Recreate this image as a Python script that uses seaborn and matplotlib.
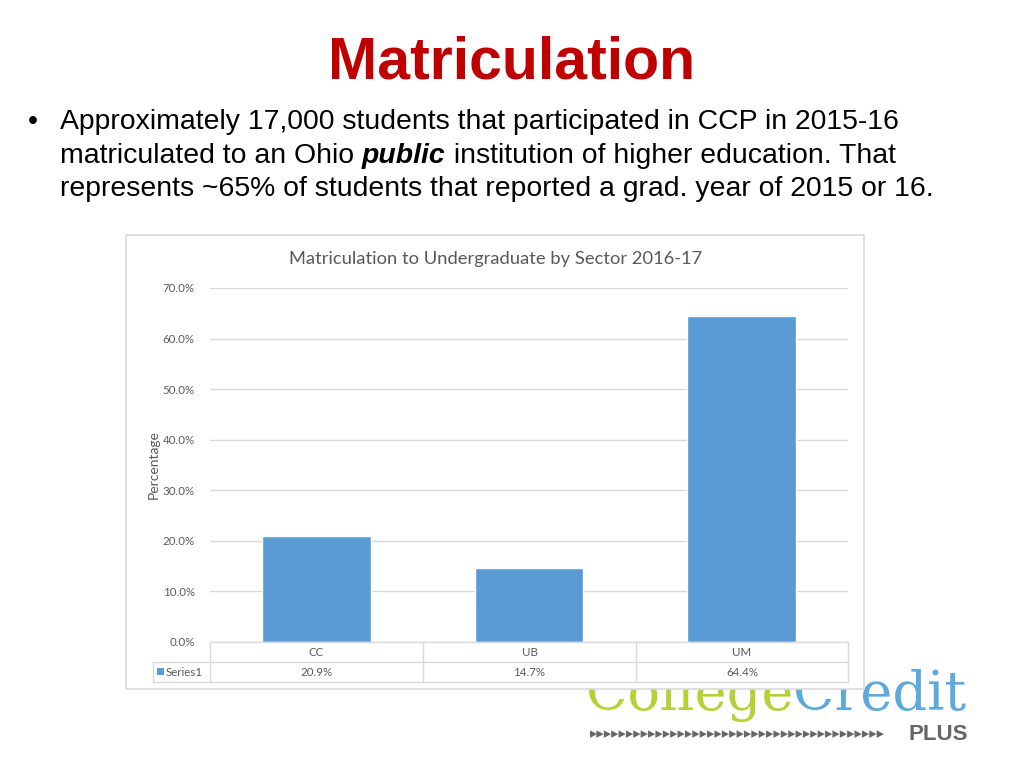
import matplotlib
matplotlib.use("Agg")
import matplotlib.pyplot as plt
import seaborn as sns
import pandas as pd
from matplotlib.patches import Rectangle

# ---- data ----
categories = ["CC", "UB", "UM"]
values = [0.209, 0.147, 0.644]
value_labels = ["20.9%", "14.7%", "64.4%"]
series_name = "Series1"
y_ticks = [0.0, 0.1, 0.2, 0.3, 0.4, 0.5, 0.6, 0.7]
slide_title = "Matriculation"
chart_title = "Matriculation to Undergraduate by Sector 2016-17"
y_label = "Percentage"

W, H = 1024, 768
sns.set_theme(style="white")
plt.rcParams['font.family'] = ['Liberation Sans', 'DejaVu Sans']

fig = plt.figure(figsize=(W / 100, H / 100), dpi=100)
fig.patch.set_facecolor("white")

def fx(px):
    return px / W

def fy(py):
    return 1 - py / H

# ---- slide title ----
fig.text(fx(512), fy(63), slide_title, ha="center", va="center",
         fontsize=42.5, fontweight="bold", color="#C00000")

# ---- bullet text ----
bfs = 20.4
fig.text(fx(28), fy(122), "\u2022", ha="left", va="center", fontsize=bfs, color="black")
fig.text(fx(60), fy(122), "Approximately 17,000 students that participated in CCP in 2015-16",
         ha="left", va="center", fontsize=bfs, color="black")
renderer = fig.canvas.get_renderer()
t1 = fig.text(fx(60), fy(156), "matriculated to an Ohio ", ha="left", va="center",
              fontsize=bfs, color="black")
bb = t1.get_window_extent(renderer)
t2 = fig.text(bb.x1 / W, fy(156), "public", ha="left", va="center",
              fontsize=bfs, color="black", fontweight="bold", fontstyle="italic")
bb2 = t2.get_window_extent(renderer)
fig.text(bb2.x1 / W, fy(156), " institution of higher education. That",
         ha="left", va="center", fontsize=bfs, color="black")
fig.text(fx(60), fy(189), "represents ~65% of students that reported a grad. year of 2015 or 16.",
         ha="left", va="center", fontsize=bfs, color="black")

# ---- logo (behind chart frame) ----
logo_font = ["DejaVu Serif"]
lt1 = fig.text(fx(586), fy(710), "College", ha="left", va="baseline", fontsize=39,
               color="#B3D235", family=logo_font, zorder=-3)
lbb = lt1.get_window_extent(renderer)
fig.text(lbb.x1 / W, fy(710), "Credit", ha="left", va="baseline", fontsize=39,
         color="#5DA8DC", family=logo_font, zorder=-3)
fig.text(fx(590), fy(734), "\u25B8" * 40, ha="left", va="center", fontsize=10.5,
         color="#666666", family=["DejaVu Sans"], zorder=-3)
fig.text(fx(968), fy(735), "PLUS", ha="right", va="center", fontsize=16,
         fontweight="bold", color="#666666", zorder=-3)

# ---- chart frame ----
frame = Rectangle((fx(126), fy(689)), (864 - 126) / W, (689 - 235) / H,
                  transform=fig.transFigure, facecolor="white",
                  edgecolor="#D9D9D9", linewidth=1.2, zorder=-1)
fig.patches.append(frame)

cfont = ["Lato", "DejaVu Sans"]
gray = "#595959"
fig.text(fx(496), fy(259), chart_title, ha="center", va="center", fontsize=13.2,
         color=gray, family=cfont)

# ---- axes ----
ax = fig.add_axes([fx(210), fy(642), (848 - 210) / W, (642 - 288) / H])
ax.set_facecolor("none")
df = pd.DataFrame({"cat": categories, "val": values})
sns.barplot(data=df, x="cat", y="val", color="#5B9BD5", width=0.51,
            saturation=1, ax=ax, zorder=3)
ax.set_ylim(0, 0.7)
ax.set_xlim(-0.5, 2.5)
ax.set_yticks(y_ticks)
ax.set_yticklabels([f"{t*100:.1f}%" for t in y_ticks], fontsize=8.3, color=gray,
                   family=cfont)
ax.tick_params(axis="y", length=0, pad=11)
ax.set_xticks([])
ax.set_xlabel("")
ax.set_ylabel("")
ax.grid(axis="y", color="#D9D9D9", linewidth=1, zorder=0)
for s in ax.spines.values():
    s.set_visible(False)

fig.text(fx(154), fy(465), y_label, rotation=90, ha="center", va="center",
         fontsize=10, color=gray, family=cfont)

# ---- data table ----
tax = fig.add_axes([fx(150), fy(684), (850 - 150) / W, (684 - 640) / H])
tax.set_xlim(150, 850)
tax.set_ylim(684, 640)
tax.axis("off")
lc = "#D9D9D9"
cols = [210, 423, 636, 848]
for x in cols:
    tax.plot([x, x], [642, 682], color=lc, lw=1)
tax.plot([153, 153], [662, 682], color=lc, lw=1)
tax.plot([210, 848], [642, 642], color=lc, lw=1)
tax.plot([153, 848], [662, 662], color=lc, lw=1)
tax.plot([153, 848], [682, 682], color=lc, lw=1)
for i, (c, v) in enumerate(zip(categories, value_labels)):
    cx = (cols[i] + cols[i + 1]) / 2
    tax.text(cx, 652, c, ha="center", va="center", fontsize=8.3, color=gray, family=cfont)
    tax.text(cx, 672, v, ha="center", va="center", fontsize=8.3, color=gray, family=cfont)
tax.add_patch(Rectangle((157, 668), 7, 7, facecolor="#5B9BD5", edgecolor="none"))
tax.text(166, 672, series_name, ha="left", va="center", fontsize=8.3, color=gray, family=cfont)

fig.savefig("out.png", dpi=100)
